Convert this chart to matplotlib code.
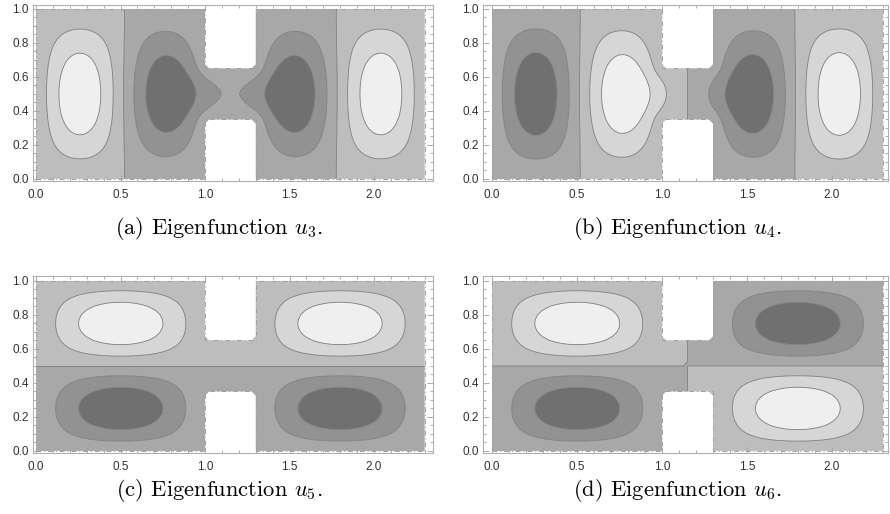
import numpy as np
import matplotlib
matplotlib.use("Agg")
import matplotlib.pyplot as plt
from matplotlib.ticker import MultipleLocator

# ---------------- data ----------------
# domain: two unit boxes joined by a narrow channel (Dirichlet Laplacian)
domain_width = 2.3
domain_height = 1.0
channel_x = [1.0, 1.3]
channel_y = [0.35, 0.65]
grid_step = 0.025

# eigenfunctions shown: (x-symmetry, y-symmetry, rank within that class)
mode_class = [(+1, +1, 1), (-1, +1, 1), (+1, -1, 0), (-1, -1, 0)]
# sign convention: (x, y, sign at that point)
sign_probe = [(0.25, 0.5, +1), (0.25, 0.5, -1), (0.5, 0.75, +1), (0.5, 0.75, +1)]

# contour values for L2-normalised eigenfunctions
contour_levels = [-1.0, -0.5, 0.0, 0.5, 1.0]
band_colors = ["#707070", "#929292", "#a8a8a8", "#bdbdbd", "#d6d6d6", "#efefef"]
captions = [r"(a) Eigenfunction $u_3$.", r"(b) Eigenfunction $u_4$.",
            r"(c) Eigenfunction $u_5$.", r"(d) Eigenfunction $u_6$."]
x_ticks = [0.0, 0.5, 1.0, 1.5, 2.0]
y_ticks = [0.0, 0.2, 0.4, 0.6, 0.8, 1.0]

# ---------------- eigen solve ----------------
h = grid_step
nx = int(round(domain_width / h)) + 1
ny = int(round(domain_height / h)) + 1
X, Y = np.meshgrid(np.arange(nx) * h, np.arange(ny) * h)
I, J = np.meshgrid(np.arange(nx), np.arange(ny))
eps = 1e-9
in_notch_closed = (X >= channel_x[0] - eps) & (X <= channel_x[1] + eps) & \
    ((Y <= channel_y[0] + eps) | (Y >= channel_y[1] - eps))
inside = (I > 0) & (I < nx - 1) & (J > 0) & (J < ny - 1) & ~in_notch_closed
notch_open = (X > channel_x[0] + eps) & (X < channel_x[1] - eps) & \
    ((Y < channel_y[0] - eps) | (Y > channel_y[1] + eps))

idx = -np.ones((ny, nx), dtype=int)
N = int(inside.sum())
idx[inside] = np.arange(N)
A = np.zeros((N, N))
jj, ii = np.nonzero(inside)
k = idx[jj, ii]
A[k, k] = 4.0 / h**2
for dj, di in [(1, 0), (-1, 0), (0, 1), (0, -1)]:
    nb = idx[jj + dj, ii + di]
    ok = nb >= 0
    A[k[ok], nb[ok]] = -1.0 / h**2
w, V = np.linalg.eigh(A)


def to_grid(v):
    F = np.zeros((ny, nx))
    F[inside] = v
    return F


def extend(F):
    G = F.copy()
    filled = inside.copy()
    for offsets in ([(1, 0), (-1, 0), (0, 1), (0, -1)],
                    [(1, 1), (1, -1), (-1, 1), (-1, -1)]):
        tot = np.zeros_like(G)
        cnt = np.zeros_like(G)
        Gp = np.pad(G, 1)
        Fp = np.pad(filled, 1)
        for dj, di in offsets:
            s = (slice(1 + dj, 1 + dj + ny), slice(1 + di, 1 + di + nx))
            tot += np.where(Fp[s], Gp[s], 0.0)
            cnt += Fp[s]
        target = (~filled) & (~notch_open) & (cnt > 0)
        G[target] = tot[target] / cnt[target]
        filled = filled | target
    return G


fields = []
for (sx, sy, rank), (px, py, sg) in zip(mode_class, sign_probe):
    count = 0
    for m in range(12):
        F = to_grid(V[:, m])
        cx = np.sign(np.sum(F * F[:, ::-1]))
        cy = np.sign(np.sum(F * F[::-1, :]))
        if cx == sx and cy == sy:
            if count == rank:
                break
            count += 1
    F = F / np.sqrt(np.sum(F ** 2) * h * h)   # unit L2 norm
    pi_, pj_ = int(round(px / h)), int(round(py / h))
    if np.sign(F[pj_, pi_]) != sg:
        F = -F
    G = extend(F)
    fields.append(np.ma.masked_where(notch_open, G))

# ---------------- plot ----------------
W, H = 890, 514
fig = plt.figure(figsize=(W / 100, H / 100), dpi=100)
frames = [(33, 5, 433, 181), (483, 5, 888, 181), (33, 276, 433, 453), (483, 276, 888, 453)]
xlims = [(-0.018, 2.349), (-0.053, 2.329), (-0.018, 2.349), (-0.053, 2.329)]
ylims = [(-0.012, 1.0235), (-0.012, 1.0235), (-0.012, 1.029), (-0.012, 1.029)]
caption_pos = [(219, 228), (678, 228), (219, 490), (678, 490)]

boundary_x = [0, 1.0, 1.0, 1.3, 1.3, 2.3, 2.3, 1.3, 1.3, 1.0, 1.0, 0, 0]
boundary_y = [0, 0, 0.35, 0.35, 0, 0, 1.0, 1.0, 0.65, 0.65, 1.0, 1.0, 0]

fill_levels = [-10] + contour_levels + [10]
for n in range(4):
    l, t, r, b = frames[n]
    ax = fig.add_axes([l / W, 1 - b / H, (r - l) / W, (b - t) / H])
    ax.contourf(X, Y, fields[n], levels=fill_levels, colors=band_colors, antialiased=True)
    ax.contour(X, Y, fields[n], levels=contour_levels, colors="#7c7c7c",
               linewidths=0.6, linestyles="solid")
    ax.plot(boundary_x, boundary_y, color="#a0a0a0", lw=0.7, ls=(0, (5, 3, 1, 3)))
    ax.set_xlim(*xlims[n])
    ax.set_ylim(*ylims[n])
    ax.set_xticks(x_ticks)
    ax.set_xticklabels([f"{v:.1f}" for v in x_ticks])
    ax.set_yticks(y_ticks)
    ax.set_yticklabels([f"{v:.1f}" for v in y_ticks])
    ax.xaxis.set_minor_locator(MultipleLocator(0.1))
    ax.yaxis.set_minor_locator(MultipleLocator(0.05))
    ax.tick_params(which="both", direction="in", top=True, right=True, color="#a0a0a0", width=0.6)
    ax.tick_params(which="major", length=4, labelsize=8.5, labelcolor="#333333", pad=3)
    ax.tick_params(which="minor", length=2)
    ax.tick_params(axis="x", which="major", pad=6)
    for sp in ax.spines.values():
        sp.set_color("#b0b0b0")
        sp.set_linewidth(0.8)
    for lab in ax.get_xticklabels() + ax.get_yticklabels():
        lab.set_family("Liberation Sans")
    cx, cy = caption_pos[n]
    fig.text(cx / W, 1 - cy / H, captions[n], ha="center", va="center",
             fontsize=16.2, family="cmr10", math_fontfamily="cm")

fig.savefig("out.png", dpi=100)
